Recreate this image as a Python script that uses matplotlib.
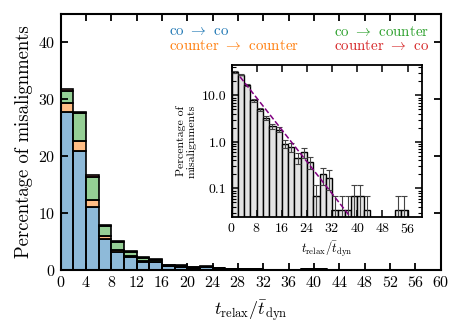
import numpy as np
import matplotlib
matplotlib.use('Agg')
import matplotlib.pyplot as plt

plt.rcParams['font.family'] = 'cmr10'
plt.rcParams['mathtext.fontset'] = 'cm'
plt.rcParams['axes.formatter.use_mathtext'] = True
plt.rcParams['axes.unicode_minus'] = False

# bin left edges (width 2)
bin_left = np.arange(0, 60, 2)
bin_width = 2

# percentage of misalignments per bin, split by transition type
co_co = [27.7, 20.8, 11.1, 5.35, 3.1, 2.3, 1.45, 1.3, 0.6, 0.55, 0.3, 0.4, 0.25, 0.068, 0.14,
         0.1, 0.034, 0.034, 0.034, 0.068, 0.068, 0.034, 0, 0, 0, 0, 0.034, 0.034, 0, 0]
counter_counter = [1.7, 1.9, 1.1, 0.55, 0.3, 0.2, 0.1, 0.1, 0.05, 0, 0, 0.03, 0, 0, 0,
                   0, 0, 0, 0, 0, 0, 0, 0, 0, 0, 0, 0, 0, 0, 0]
co_counter = [2.1, 4.8, 4.1, 1.8, 1.4, 0.65, 0.45, 0.3, 0.2, 0.15, 0.1, 0.12, 0.08, 0, 0.06,
              0.07, 0, 0, 0, 0, 0, 0, 0, 0, 0, 0, 0, 0, 0, 0]
counter_co = [0.3, 0.3, 0.3, 0.2, 0.2, 0.2, 0.2, 0.15, 0.07, 0.08, 0.06, 0.05, 0.04, 0, 0,
              0, 0, 0, 0, 0, 0, 0, 0, 0, 0, 0, 0, 0, 0, 0]

# poisson errors on the total
total_err = [1.04, 0.97, 0.75, 0.52, 0.41, 0.33, 0.27, 0.25, 0.18, 0.16, 0.125, 0.14, 0.11, 0.048, 0.082,
             0.076, 0.034, 0.034, 0.034, 0.048, 0.048, 0.034, 0, 0, 0, 0, 0.034, 0.034, 0, 0]

# exponential fit shown in the inset
fit_amp = 43.0
fit_tau = 5.06

series = [
    (co_co, '#1f77b4', r'co $\rightarrow$ co'),
    (counter_counter, '#ff7f0e', r'counter $\rightarrow$ counter'),
    (co_counter, '#2ca02c', r'co $\rightarrow$ counter'),
    (counter_co, '#d62728', r'counter $\rightarrow$ co'),
]

fig = plt.figure(figsize=(4.63, 3.31), dpi=100)
ax = fig.add_axes([0.131, 0.185, 0.821, 0.773])

bottom = np.zeros(len(bin_left))
for vals, col, lab in series:
    vals = np.array(vals, dtype=float)
    ax.bar(bin_left, vals, width=bin_width, bottom=bottom, align='edge',
           color=col, alpha=0.5, edgecolor='none')
    ax.bar(bin_left, vals, width=bin_width, bottom=bottom, align='edge',
           facecolor='none', edgecolor='black', linewidth=1.2)
    bottom += vals
total = bottom.copy()

ax.set_xlim(0, 60)
ax.set_ylim(0, 45)
ax.set_xticks(np.arange(0, 61, 4))
ax.set_yticks(np.arange(0, 41, 10))
ax.tick_params(direction='in', top=True, right=True, length=5, width=1.3, labelsize=11.5)
for s in ax.spines.values():
    s.set_linewidth(1.5)
ax.set_xlabel(r'$t_{\rm relax}/\bar{t}_{\rm dyn}$', fontsize=13, labelpad=6)
ax.set_ylabel('Percentage of misalignments', fontsize=13.5, labelpad=4)

# coloured legend text
ax.text(0.285, 0.958, series[0][2], color=series[0][1], transform=ax.transAxes,
        fontsize=10.8, ha='left', va='top')
ax.text(0.285, 0.900, series[1][2], color=series[1][1], transform=ax.transAxes,
        fontsize=10.8, ha='left', va='top')
ax.text(0.968, 0.958, series[2][2], color=series[2][1], transform=ax.transAxes,
        fontsize=10.8, ha='right', va='top')
ax.text(0.968, 0.900, series[3][2], color=series[3][1], transform=ax.transAxes,
        fontsize=10.8, ha='right', va='top')

# inset: log-scale total with errors
ins = fig.add_axes([0.500, 0.3435, 0.411, 0.460])
mask = total > 0
ins.bar(bin_left[mask], total[mask], width=bin_width, align='edge',
        color='#e3e3e3', edgecolor='black', linewidth=1.0)
err = np.array(total_err)
lower = np.minimum(err, total * 0.999)
ins.errorbar(bin_left[mask] + 1, total[mask], yerr=[lower[mask], err[mask]],
             fmt='none', ecolor='#444444', elinewidth=0.8, capsize=2, capthick=0.8)
xf = np.linspace(2.7, 60, 200)
ins.plot(xf, fit_amp * np.exp(-xf / fit_tau), color='purple', ls='--', lw=1.1)
ins.set_yscale('log')
ins.set_ylim(0.024, 45)
ins.set_xlim(0, 60.5)
ins.set_xticks(np.arange(0, 57, 8))
ins.set_yticks([0.1, 1.0, 10.0])
ins.set_yticklabels(['0.1', '1.0', '10.0'])
ins.tick_params(which='both', direction='in', top=True, right=True, labelsize=10)
ins.tick_params(which='major', length=5, width=1.1)
ins.tick_params(which='minor', length=3, width=0.8)
for s in ins.spines.values():
    s.set_linewidth(1.3)
ins.set_xlabel(r'$t_{\rm relax}/\bar{t}_{\rm dyn}$', fontsize=9, labelpad=3)
ins.set_ylabel('Percentage of\nmisalignments', fontsize=8.5, labelpad=4, linespacing=1.0)

fig.savefig('out.png', dpi=100)
